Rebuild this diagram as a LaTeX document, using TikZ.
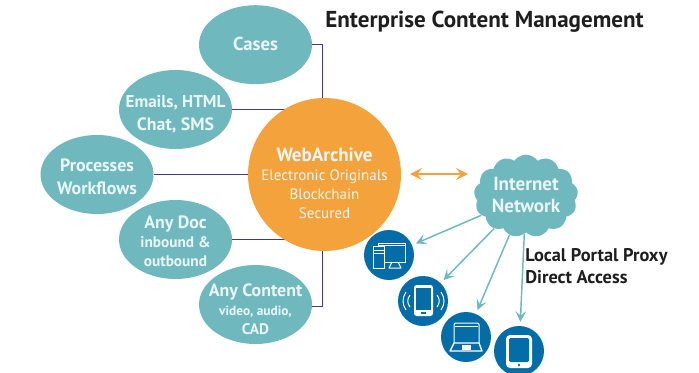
\documentclass[tikz,border=0pt]{standalone}
\usepackage{fontspec}
\setmainfont{PT Sans}
\usetikzlibrary{shapes.symbols,shapes.geometric,arrows.meta,backgrounds}
\definecolor{teal1}{HTML}{6FB8BE}
\definecolor{orange1}{HTML}{F4A33C}
\definecolor{purple1}{HTML}{3F3A8E}
\definecolor{blue1}{HTML}{046CA6}
\definecolor{txt}{HTML}{EAF6F6}
\definecolor{ink}{HTML}{1E1E1E}
\newcommand{\fs}[1]{\fontsize{#1}{14.25}\selectfont}
\tikzset{
  bubble/.style={ellipse,fill=teal1,minimum width=84.75pt,minimum height=59.25pt,inner sep=0pt},
  bubbletext/.style={text=txt,align=center,inner sep=0pt,font=\fontsize{13.4}{17.25}\selectfont\bfseries},
  tighttext/.style={bubbletext,font=\fontsize{13.4}{14.25}\selectfont\bfseries},
  link/.style={draw=purple1,line width=1.1pt},
  device/.style={circle,fill=blue1,minimum size=37.5pt,inner sep=0pt},
  feed/.style={draw=teal1,line width=1.1pt,shorten >=3pt,-{Stealth[length=8pt,width=8pt,inset=3.5pt]}},
  icon/.style={draw=white,line width=.75pt,line join=round},
  heading/.style={text=ink,font=\fontsize{13.75}{16.5}\selectfont\bfseries,align=left}
}
\begin{document}
\begin{tikzpicture}[x=0.75pt,y=-0.75pt]
\useasboundingbox (0,0) rectangle (699,372);
\clip (0,0) rectangle (699,372);
\node[bubble,label={[bubbletext,yshift=0.5pt]center:{\fontsize{14}{17}\selectfont Cases}}] (cases) at (255.5,44.7) {};
\node[bubble,label={[bubbletext,yshift=-3.5pt]center:{\fontsize{12.8}{17.25}\selectfont Emails, HTML\\Chat, SMS}}] (emails) at (175.5,109.5) {};
\node[bubble,label={[bubbletext,yshift=-1.5pt]center:{Processes\\Workflows}}] (proc) at (97,174.5) {};
\node[bubble,label={[tighttext,yshift=-1pt]center:{Any Doc\\{\fs{11.5}inbound \&}\\{\fs{11.5}outbound}}}] (doc) at (175.5,239.5) {};
\node[bubble,label={[tighttext,yshift=-3.8pt]center:{Any Content\\{\fs{10}video, audio,}\\{\fs{11.5}CAD}}}] (content) at (255.5,304.5) {};
\node[circle,fill=orange1,minimum size=114.75pt,inner sep=0pt,label={[text=txt,align=center,inner sep=0pt,yshift=-6.5pt,font=\fontsize{11.3}{14.25}\selectfont]center:{{\fs{14.3}\bfseries WebArchive}\\Electronic Originals\\Blockchain\\Secured}}] (arch) at (324.5,174.5) {};
\begin{scope}[on background layer]
\draw[link] (cases.east) -| ([xshift=-1.5pt]arch.north);
\draw[link] (emails.east) -- (arch.center |- emails.east);
\draw[link] (proc.east) -- (arch.west);
\draw[link] (doc.east) -- (arch.center |- doc.east);
\draw[link] ([yshift=-1.5pt]content.east) -| ([xshift=-1.5pt]arch.south);
\end{scope}
\node[cloud,cloud puffs=13,cloud puff arc=110,aspect=1.3,fill=teal1,minimum width=78pt,minimum height=62pt,inner sep=0pt,label={[bubbletext,yshift=1pt,font=\fontsize{14.3}{16.5}\selectfont\bfseries]center:{Internet\\Network}}] (net) at (526,196) {};
\coordinate (arrowL) at (410,174);
\coordinate (arrowR) at (468,174);
\draw[draw=orange1,line width=1.1pt,{Stealth[length=9pt,width=9pt,inset=3.5pt]}-{Stealth[length=9pt,width=9pt,inset=3.5pt]}] (arrowL) -- (arrowR);
\node[heading,font=\fontsize{17.3}{20}\selectfont\bfseries,anchor=west,inner sep=0pt] (title) at (325,22) {Enterprise Content Management};
\node[heading,anchor=west,inner sep=0pt] (access) at (525,266) {Local Portal Proxy\\Direct Access};
\node[device] (d1) at (389,255) {};
\node[device] (d2) at (423,301) {};
\node[device] (d3) at (466,337) {};
\node[device] (d4) at (519,351) {};
\draw[feed] (net) -- (d1);
\draw[feed] (net) -- (d2);
\draw[feed] (net) -- (d3);
\draw[feed] (net) -- (d4);
% desktop
\begin{scope}[shift={(d1)},icon]
 \draw[fill=blue1] (-11,-12) rectangle (16,7);
 \draw (-11,-10) -- (16,-10);
 \draw[fill=blue1] (-16,-9) rectangle (-5,13);
 \draw (-16,-5) -- (-5,-5) (-16,-2) -- (-5,-2);
 \draw (3,7) -- (0,13) -- (12,13) -- (9,7);
\end{scope}
% phone
\begin{scope}[shift={(d2)},icon]
 \fill[white,rounded corners=2pt] (-9,-16) rectangle (10,15);
 \fill[blue1] (-7,-13) rectangle (8,9);
 \fill[blue1] (-2,11) rectangle (3,13);
 \draw (-13,-6) .. controls (-16,-2) and (-16,2) .. (-13,6);
 \draw (-17,-9) .. controls (-21,-3) and (-21,3) .. (-17,9);
 \draw (14,-6) .. controls (17,-2) and (17,2) .. (14,6);
 \draw (18,-9) .. controls (22,-3) and (22,3) .. (18,9);
\end{scope}
% laptop
\begin{scope}[shift={(d3)},icon]
 \draw[rounded corners=1pt] (-12,6) -- (-12,-14) -- (13,-14) -- (13,6);
 \draw (-11,-11) -- (12,-11);
 \draw[line width=1pt] (-12,6) -- (13,6) -- (16,14) -- (-16,14) -- cycle;
 \fill[white] (-4,8) rectangle (5,13);
\end{scope}
% tablet
\begin{scope}[shift={(d4)},icon]
 \fill[white,rounded corners=3pt] (-13,-16) rectangle (13,17);
 \fill[blue1,rounded corners=1pt] (-10,-13) rectangle (10,11);
 \fill[blue1] (0,14) circle (1.4);
\end{scope}
\end{tikzpicture}
\end{document}
